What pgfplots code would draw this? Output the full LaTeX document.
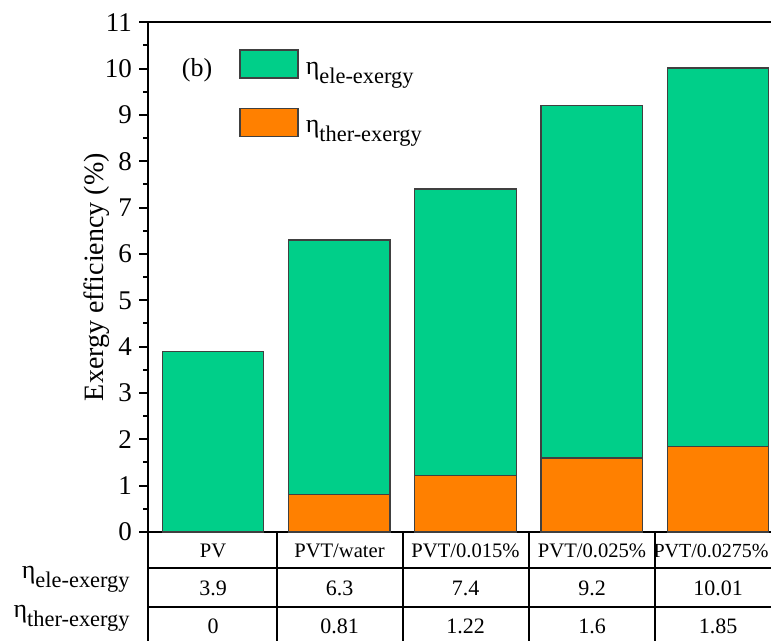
\documentclass[border=0pt]{standalone}
\usepackage{fontspec}
\setmainfont{Liberation Serif}
\usepackage{pgfplots}
\usepackage{pgfplotstable}
\pgfplotsset{compat=1.18}
\definecolor{eleg}{RGB}{0,207,137}
\definecolor{thero}{RGB}{255,128,0}
\newcommand\etasub[1]{{\fontsize{13}{13}\selectfont η}\raisebox{-4.5pt}{\fontsize{11.2}{11}\selectfont #1}}
\pgfplotstableread{
x ele ther
0 3.9 0
1 6.3 0.81
2 7.4 1.22
3 9.2 1.6
4 10.01 1.85
}\data
\begin{document}
\begin{tikzpicture}
\begin{axis}[
  at={(74pt,-266pt)}, anchor=south west,
  scale only axis, width=317.5pt, height=254.85pt,
  xmin=-0.515, xmax=4.515, ymin=0, ymax=11,
  xtick=\empty,
  ytick={0,...,11}, minor y tick num=1,
  ytick pos=left, tick align=outside,
  major tick length=4.5pt, minor tick length=2.5pt,
  axis line style={line width=1.2pt},
  every tick/.style={line width=1pt, black},
  /pgf/number format/assume math mode=true,
  tick label style={font=\fontsize{13.5}{14}\selectfont},
  ylabel={Exergy efficiency (\%)},
  ylabel style={font=\fontsize{14}{14}\selectfont, at={(axis description cs:-0.0815,0.5)}, anchor=center},
  ybar, bar shift=0pt, bar width=50.75pt,
  legend style={at={(0.1433,0.9476)}, anchor=north west, draw=none, fill=none,
    inner sep=0pt, row sep=9.5pt, column sep=3.5pt,
    nodes={inner sep=0pt, text height=10.5pt, text depth=7pt}},
  legend cell align=left,
  clip=false,
]
\addplot[fill=eleg, draw=black!75, line width=0.7pt,
  legend image code/.code={\draw[fill=eleg, draw=black!75, line width=0.7pt] (0pt,-3.5pt) rectangle (29pt,10.5pt);}]
  table[x=x, y=ele] {\data};
\addlegendentry{\etasub{ele-exergy}}
\addplot[fill=thero, draw=black!75, line width=0.7pt,
  legend image code/.code={\draw[fill=thero, draw=black!75, line width=0.7pt] (0pt,-3.5pt) rectangle (29pt,10.5pt);}]
  table[x=x, y=ther] {\data};
\addlegendentry{\etasub{ther-exergy}}
\end{axis}
\begin{scope}[x=0.5pt,y=-0.5pt]
  \node[font=\fontsize{13}{13}\selectfont] at (197,70) {(b)};
  \draw[line width=1pt] (148,532) -- (148,660);
  \foreach \xx in {276.5,402.5,528.5,655} \draw[line width=1pt] (\xx,532) -- (\xx,660);
  \draw[line width=1pt] (148,568) -- (800,568);
  \draw[line width=1pt] (148,607) -- (800,607);
  \foreach \xx/\t in {213/PV,339.5/PVT\slash water,465.5/PVT\slash 0.015\%,592/PVT\slash 0.025\%}
    \node[font=\fontsize{10.3}{11}\selectfont] at (\xx,551) {\t};
  \node[font=\fontsize{10}{11}\selectfont, anchor=east, inner sep=0pt] at (769,551) {PVT/0.0275\%};
  \foreach \xx/\t in {213/3.9,339.5/6.3,465.5/7.4,592/9.2,718/10.01}
    \node[font=\fontsize{11}{11}\selectfont] at (\xx,588) {\t};
  \foreach \xx/\t in {213/0,339.5/0.81,465.5/1.22,592/1.6,718/1.85}
    \node[font=\fontsize{11}{11}\selectfont] at (\xx,626) {\t};
  \node[anchor=base east, inner sep=0pt] at (130,578) {\etasub{ele-exergy}};
  \node[anchor=base east, inner sep=0pt] at (130,617) {\etasub{ther-exergy}};
\end{scope}
\pgfresetboundingbox
\useasboundingbox (0pt,0pt) rectangle (385.5pt,-320.5pt);
\end{tikzpicture}
\end{document}
